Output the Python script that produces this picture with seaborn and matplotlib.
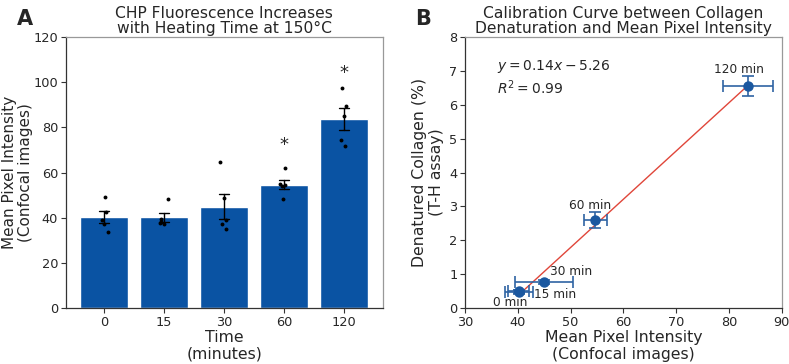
import numpy as np
import pandas as pd
import seaborn as sns
import matplotlib.pyplot as plt

sns.set_style('white')
plt.rcParams['font.family'] = ['DejaVu Sans']

# heating times and per-sample mean pixel intensities (confocal)
times = ['0', '15', '30', '60', '120']
int_0 = [49.3, 42.4, 39.0, 37.1, 33.6]
int_15 = [48.2, 39.5, 38.0, 37.6, 37.4]
int_30 = [64.7, 48.6, 39.0, 37.1, 35.2]
int_60 = [62.0, 54.8, 54.5, 54.0, 48.2]
int_120 = [97.5, 89.2, 85.0, 74.4, 71.9]
signif = ['', '', '', '*', '*']

# T-H assay denatured collagen (%)
denat_mean = [0.47, 0.50, 0.77, 2.61, 6.55]
denat_sem = [0.06, 0.05, 0.05, 0.23, 0.29]
point_labels = ['0 min', '15 min', '30 min', '60 min', '120 min']
fit_text = '$y = 0.14x - 5.26$\n$R^2 = 0.99$'

bar_color = '#0a53a3'
pt_color = '#1b58a0'

df = pd.DataFrame({
    'time': np.repeat(times, 5),
    'intensity': int_0 + int_15 + int_30 + int_60 + int_120,
})
stats = df.groupby('time', sort=False)['intensity'].agg(['mean', 'sem'])

fig = plt.figure(figsize=(7.89, 3.64), dpi=100)
ax1 = fig.add_axes([0.0833, 0.153, 0.4018, 0.746])
ax2 = fig.add_axes([0.5894, 0.153, 0.4014, 0.746])

# --- panel A ---
sns.barplot(data=df, x='time', y='intensity', order=times, color=bar_color,
            saturation=1, errorbar='se', capsize=0.17, width=0.8,
            err_kws={'color': 'black', 'linewidth': 1.0}, ax=ax1, zorder=2)
np.random.seed(3)
sns.stripplot(data=df, x='time', y='intensity', order=times, color='black',
              size=2.8, jitter=0.08, ax=ax1, zorder=3)
for i, s in enumerate(signif):
    if s:
        top = df.loc[df['time'] == times[i], 'intensity'].max()
        ax1.text(i, top + 6 if i == 3 else top + 2.5, s, ha='center', va='bottom', fontsize=13)
ax1.set_xlim(-0.64, 4.64)
ax1.set_ylim(0, 120)
ax1.set_yticks(range(0, 121, 20))
ax1.set_xlabel('Time\n(minutes)', fontsize=11.3, labelpad=1, linespacing=1.1)
ax1.set_ylabel('Mean Pixel Intensity\n(Confocal images)', fontsize=11, labelpad=0.5, linespacing=1.05)
ax1.set_title('CHP Fluorescence Increases\nwith Heating Time at 150°C', fontsize=11.2, pad=3, linespacing=1.0)

# --- panel B ---
x = stats['mean'].values
xerr = stats['sem'].values
slope, intercept = np.polyfit(x, denat_mean, 1)
xf = np.array([x.min(), x.max()])
sns.lineplot(x=xf, y=slope * xf + intercept, color='#e0463a', linewidth=1.0, ax=ax2, zorder=2)
ax2.errorbar(x, denat_mean, xerr=xerr, yerr=denat_sem, fmt='o', color=pt_color,
             ecolor='#2f63a3', markersize=6.5, capsize=4, elinewidth=1.2, capthick=1.2, zorder=3)
offsets = [(-6.3, -7.5), (26, -2.4), (19.7, 7.6), (-3.8, 10.3), (-6.3, 12.2)]
for lab, xi, yi, off in zip(point_labels, x, denat_mean, offsets):
    ax2.annotate(lab, (xi, yi), xytext=off, textcoords='offset points',
                 ha='center', va='center', fontsize=8.7)
ax2.text(0.10, 0.85, fit_text, transform=ax2.transAxes, fontsize=10,
         ha='left', va='center', linespacing=1.2)
ax2.set_xlim(30, 90)
ax2.set_ylim(0, 8)
ax2.set_xlabel('Mean Pixel Intensity\n(Confocal images)', fontsize=11.3, labelpad=1, linespacing=1.1)
ax2.set_ylabel('Denatured Collagen (%)\n(T-H assay)', fontsize=11.3, labelpad=4, linespacing=1.1)
ax2.set_title('Calibration Curve between Collagen\nDenaturation and Mean Pixel Intensity',
              fontsize=11.2, pad=3, linespacing=1.0)

for ax in (ax1, ax2):
    ax.tick_params(axis='both', labelsize=9.3, length=3.5, width=0.8, color='#333333',
                   bottom=True, left=True, pad=2)
    for side in ('left', 'bottom'):
        ax.spines[side].set_color('#333333')
    for side in ('top', 'right'):
        ax.spines[side].set_color('#999999')
    for sp in ax.spines.values():
        sp.set_linewidth(0.9)

fig.text(0.021, 0.975, 'A', fontsize=15, fontweight='bold', va='top')
fig.text(0.526, 0.975, 'B', fontsize=15, fontweight='bold', va='top')

fig.savefig('out.png', dpi=100)
